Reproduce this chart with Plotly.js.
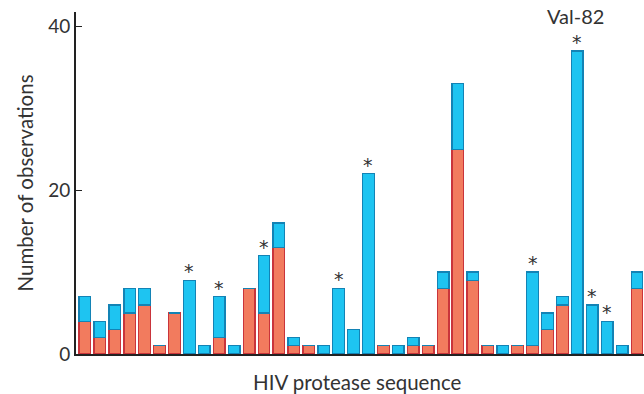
<!DOCTYPE html>
<html>
<head>
<meta charset="utf-8">
<script src="https://cdn.plot.ly/plotly-3.0.1.min.js"></script>
<style>html,body{margin:0;padding:0;background:#fff;}#chart{width:644px;height:394px;}</style>
</head>
<body>
<div id="chart"></div>
<script>
// Position index along the HIV protease sequence (bars, left to right)
const positions = Array.from({length: 38}, (_, i) => i);
// Bottom (red) segment values
const redValues = [4,2,3,5,6,1,5,0,0,2,0,8,5,13,1,1,0,0,0,0,1,0,1,1,8,25,9,1,0,1,1,3,6,0,0,0,0,8];
// Top (blue) segment values
const blueValues = [3,2,3,3,2,0,0,9,1,5,1,0,7,3,1,0,1,8,3,22,0,1,1,0,2,8,1,0,1,0,9,2,1,37,6,4,1,2];
// Bars marked with an asterisk
const starredBars = [7,9,12,17,19,30,33,34,35];
const labelBar = 33;
const labelText = 'Val-82';
const xTitle = 'HIV protease sequence';
const yTitle = 'Number of observations';
const yTickVals = [0, 20, 40];

const totals = redValues.map((r, i) => r + blueValues[i]);

const traces = [
  {type: 'bar', x: positions, y: redValues, width: 0.78,
   marker: {color: '#f27b5e', line: {color: '#c9343b', width: 1.3}}, hoverinfo: 'none'},
  {type: 'bar', x: positions, y: blueValues, width: 0.78,
   marker: {color: '#1ec4f1', line: {color: '#1383b5', width: 1.3}}, hoverinfo: 'none'}
];

const annotations = starredBars.map(i => ({
  x: positions[i], y: totals[i], xref: 'x', yref: 'y', text: '*', showarrow: false,
  yanchor: 'bottom', yshift: -4, font: {family: 'DejaVu Sans, sans-serif', size: 19, color: '#333'}
}));
annotations.push({
  x: positions[labelBar], y: totals[labelBar], xref: 'x', yref: 'y', text: labelText, showarrow: false,
  yanchor: 'bottom', yshift: 21, xshift: -2, font: {family: 'Lato, sans-serif', size: 20, color: '#333'}
});
// x-axis title placed below the axis
annotations.push({
  x: 0.5, y: -0.082, xref: 'paper', yref: 'paper', text: xTitle, showarrow: false,
  xanchor: 'center', yanchor: 'middle', xshift: -3, font: {family: 'Lato, sans-serif', size: 20.5, color: '#333'}
});

const layout = {
  width: 644, height: 394,
  margin: {l: 76, r: 0, t: 12, b: 40},
  barmode: 'stack', bargap: 0.2,
  showlegend: false,
  paper_bgcolor: '#fff', plot_bgcolor: '#fff',
  font: {family: 'Lato, sans-serif', color: '#333'},
  xaxis: {
    range: [-0.6, 37.47], showgrid: false, zeroline: false,
    showticklabels: false, ticks: '',
    showline: true, linecolor: '#222', linewidth: 2
  },
  yaxis: {
    range: [0, 41.75], showgrid: false, zeroline: false,
    tickvals: yTickVals, ticks: 'inside', ticklen: 6, tickcolor: '#222', tickwidth: 1.3,
    tickfont: {size: 19, color: '#333'},
    showline: true, linecolor: '#222', linewidth: 2,
    title: {text: yTitle, font: {size: 20.5, color: '#333'}, standoff: 9}
  },
  annotations: annotations
};

Plotly.newPlot('chart', traces, layout, {staticPlot: true});
</script>
</body>
</html>
